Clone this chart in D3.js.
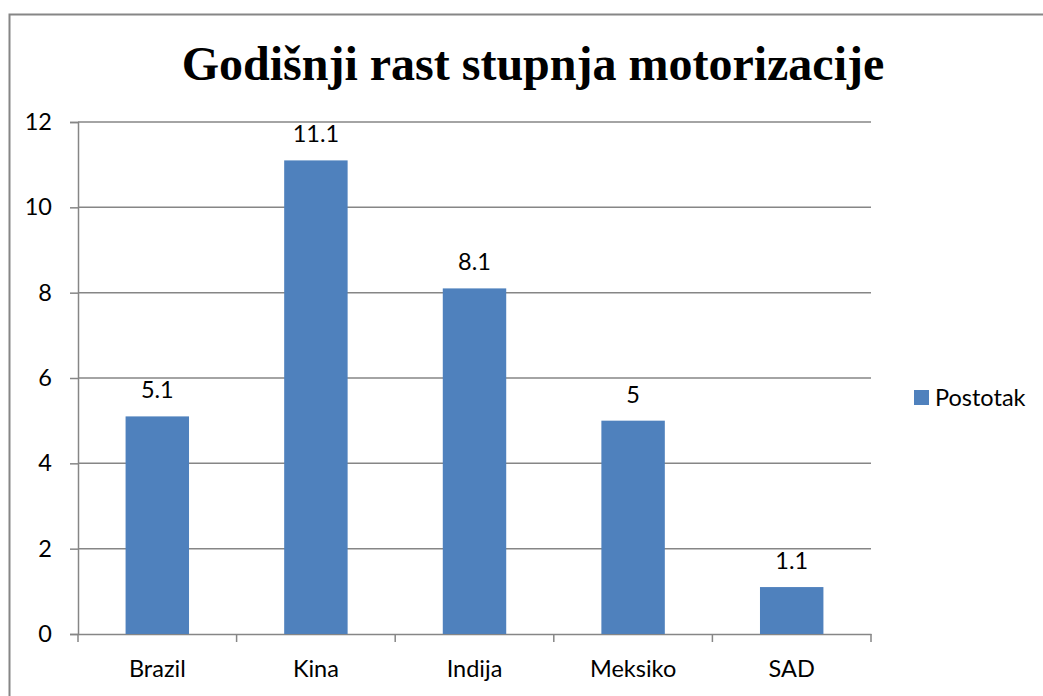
<!DOCTYPE html>
<html>
<head>
<meta charset="utf-8">
<script src="https://cdn.jsdelivr.net/npm/d3@7"></script>
<style>
  body { margin: 0; background: #fff; }
  svg { display: block; }
</style>
</head>
<body>
<div id="chart-area"></div>
<script>
var categories = ["Brazil", "Kina", "Indija", "Meksiko", "SAD"];
var values = [5.1, 11.1, 8.1, 5, 1.1];
var yTicks = [0, 2, 4, 6, 8, 10, 12];
var seriesName = "Postotak";
var title = "Godišnji rast stupnja motorizacije";

var width = 1043, height = 696;
var margin = { left: 78, right: 172, top: 122, bottom: 62 };
var blue = "#4F81BD", grey = "#868686";
var font = "Lato, 'Open Sans', sans-serif";
var fontSize = 23.5;

var svg = d3.select("#chart-area")
  .append("svg")
  .attr("width", width)
  .attr("height", height);

// outer frame (runs off the right and bottom edge like the original)
svg.append("rect")
  .attr("x", 9.5).attr("y", 14.5)
  .attr("width", width).attr("height", height)
  .attr("fill", "none")
  .attr("stroke", grey)
  .attr("stroke-width", 2);

svg.append("text")
  .attr("x", 533).attr("y", 80)
  .attr("text-anchor", "middle")
  .attr("font-family", "'Liberation Serif', 'Times New Roman', serif")
  .attr("font-weight", "bold")
  .attr("font-size", 48)
  .text(title);

var x = d3.scaleBand()
  .domain(categories)
  .range([margin.left, width - margin.right])
  .paddingInner(0.6)
  .paddingOuter(0.3);

var y = d3.scaleLinear()
  .domain([0, 12])
  .range([height - margin.bottom, margin.top]);

// gridlines
svg.append("g")
  .selectAll("line")
  .data(yTicks.filter(d => d > 0))
  .enter()
  .append("line")
    .attr("x1", margin.left).attr("x2", width - margin.right)
    .attr("y1", d => y(d)).attr("y2", d => y(d))
    .attr("stroke", grey)
    .attr("stroke-width", 1.5);

// y axis
var yAxis = svg.append("g")
  .attr("transform", "translate(" + margin.left + ",0)")
  .call(d3.axisLeft(y).tickValues(yTicks).tickSize(8).tickPadding(18).tickFormat(d3.format("d")));

// x axis with ticks between categories
var xAxis = svg.append("g")
  .attr("transform", "translate(0," + y(0) + ")")
  .call(d3.axisBottom(x).tickSize(0).tickPadding(26));

var step = x.step();
svg.append("g")
  .selectAll("line")
  .data(d3.range(categories.length + 1))
  .enter()
  .append("line")
    .attr("x1", i => margin.left + i * step)
    .attr("x2", i => margin.left + i * step)
    .attr("y1", y(0)).attr("y2", y(0) + 8)
    .attr("stroke", grey)
    .attr("stroke-width", 1.5);

[yAxis, xAxis].forEach(g => {
  g.select(".domain").attr("stroke", grey).attr("stroke-width", 1.5);
  g.selectAll(".tick line").attr("stroke", grey).attr("stroke-width", 1.5);
  g.selectAll("text")
    .attr("font-family", font)
    .attr("font-size", fontSize)
    .attr("fill", "#000");
});

svg.append("g")
  .selectAll("rect")
  .data(values)
  .enter()
  .append("rect")
    .attr("x", (d, i) => x(categories[i]))
    .attr("y", d => y(d))
    .attr("width", x.bandwidth())
    .attr("height", d => y(0) - y(d))
    .attr("fill", blue);

svg.append("g")
  .selectAll("text")
  .data(values)
  .enter()
  .append("text")
    .attr("x", (d, i) => x(categories[i]) + x.bandwidth() / 2)
    .attr("y", d => y(d) - 18)
    .attr("text-anchor", "middle")
    .attr("font-family", font)
    .attr("font-size", fontSize)
    .text(d => d);

// legend
var legend = svg.append("g").attr("transform", "translate(914,390)");
legend.append("rect")
  .attr("width", 15).attr("height", 15)
  .attr("fill", blue);
legend.append("text")
  .attr("x", 21).attr("y", 16)
  .attr("font-family", font)
  .attr("font-size", fontSize)
  .text(seriesName);
</script>
</body>
</html>
